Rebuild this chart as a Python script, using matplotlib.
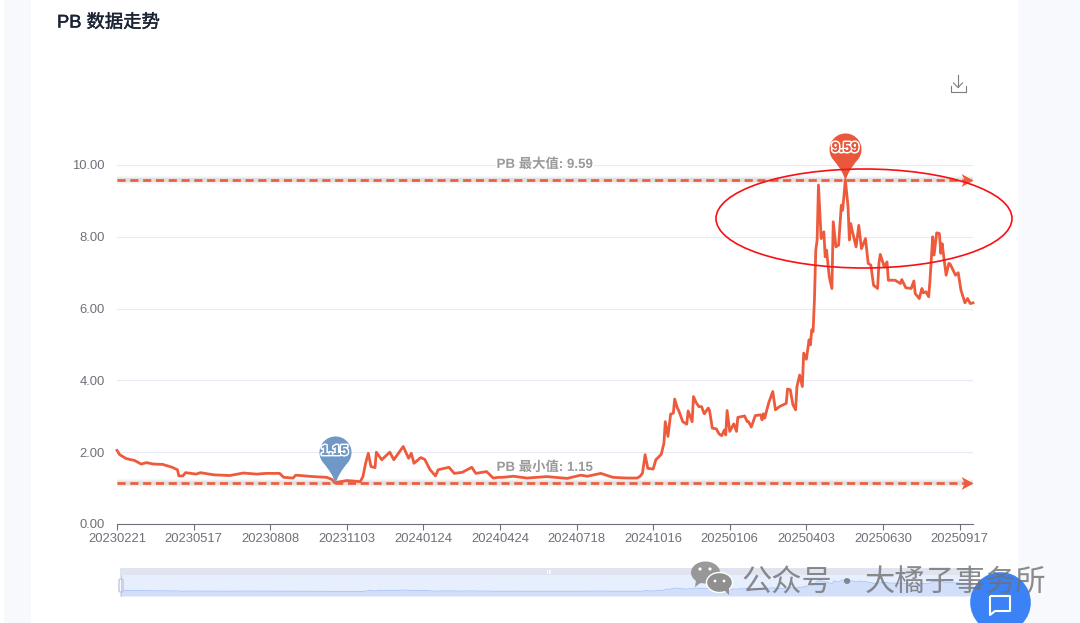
import numpy as np
import matplotlib as mpl
mpl.use('Agg')
from matplotlib import pyplot as plt
from matplotlib.path import Path
from matplotlib.patches import Ellipse, Rectangle, Circle, FancyBboxPatch, PathPatch
import matplotlib.patheffects as pe

plt.rcParams['font.family'] = ['Liberation Sans', 'Noto Sans CJK SC', 'DejaVu Sans']

# trading day index along the category axis, and PB
day_idx = [0, 2, 7, 13, 18, 22, 27, 34, 41, 45, 46, 49, 51, 59, 62, 72, 84, 94, 104, 111,
           121, 124, 131, 133, 146, 156, 160, 162, 171, 181, 183, 185, 187, 189, 192, 193,
           197, 203, 206, 213, 217, 219, 221, 226, 229, 233, 237, 239, 247, 251, 257, 264,
           267, 275, 280, 284, 287, 295, 305, 320, 335, 345, 350, 360, 369, 379, 387, 389,
           391, 393, 395, 399, 401, 405, 407, 408, 410, 412, 414, 415, 417, 418, 421, 424,
           425, 428, 429, 431, 433, 435, 437, 440, 441, 443, 446, 448, 450, 452, 453, 454,
           456, 459, 461, 462, 467, 469, 470, 472, 475, 479, 480, 481, 482, 485, 488, 490,
           493, 498, 499, 501, 503, 505, 506, 508, 510, 511, 513, 515, 516, 517, 518, 519,
           520, 521, 522, 524, 526, 527, 528, 530, 532, 533, 535, 537, 539, 540, 542, 544,
           545, 546, 547, 550, 552, 554, 557, 559, 561, 563, 566, 567, 568, 571, 573, 574,
           579, 583, 584, 587, 591, 593, 594, 597, 599, 600, 602, 604, 605, 607, 608, 610,
           612, 613, 614, 617, 619, 620, 624, 626, 628, 631, 633, 635, 637]
pb_vals = [2.05, 1.93, 1.82, 1.77, 1.67, 1.71, 1.67, 1.66, 1.58, 1.51, 1.34, 1.34, 1.43, 1.39, 1.43, 1.37, 1.35, 1.42, 1.39, 1.41,
           1.41, 1.30, 1.28, 1.36, 1.32, 1.30, 1.24, 1.15, 1.21, 1.18, 1.32, 1.69, 1.97, 1.60, 1.57, 2.00,
           1.79, 2.00, 1.79, 2.16, 1.83, 1.97, 1.69, 1.85, 1.80, 1.51, 1.34, 1.51, 1.58, 1.41, 1.44, 1.58,
           1.41, 1.46, 1.28, 1.30, 1.30, 1.33, 1.28, 1.32, 1.27, 1.36, 1.33, 1.41, 1.30, 1.28, 1.28, 1.32,
           1.41, 1.93, 1.55, 1.53, 1.79, 1.94, 2.25, 2.85, 2.44, 3.06, 3.09, 3.48, 3.23, 3.16, 2.85, 2.78,
           3.15, 2.85, 3.55, 3.38, 3.27, 3.27, 3.07, 3.23, 3.15, 2.67, 2.65, 2.51, 2.46, 2.62, 2.48, 3.16,
           2.58, 2.79, 2.58, 2.97, 3.01, 2.85, 2.85, 2.70, 3.02, 3.04, 2.90, 3.07, 2.95, 3.38, 3.69, 3.18,
           3.27, 3.36, 3.76, 3.74, 3.32, 3.18, 3.83, 4.15, 3.83, 4.76, 4.59, 5.13, 4.99, 5.41, 5.36, 6.24,
           7.63, 7.90, 9.44, 7.95, 8.14, 7.44, 7.63, 6.89, 6.56, 8.42, 7.72, 7.77, 8.88, 8.74, 9.59, 8.84,
           7.91, 8.37, 8.19, 7.72, 8.32, 7.67, 7.95, 7.26, 7.21, 6.65, 6.56, 7.26, 7.51, 7.16, 7.30, 6.79,
           6.79, 6.70, 6.81, 6.58, 6.56, 6.77, 6.42, 6.28, 6.56, 6.44, 6.47, 6.33, 6.79, 8.00, 7.49, 8.11,
           8.09, 7.54, 7.81, 6.93, 7.26, 7.24, 6.93, 7.00, 6.52, 6.16, 6.28, 6.14, 6.16]

tick_idx = [0, 57, 114, 171, 228, 285, 342, 399, 456, 513, 570, 627]
tick_labels = ['20230221', '20230517', '20230808', '20231103', '20240124', '20240424',
               '20240718', '20241016', '20250106', '20250403', '20250630', '20250917']
y_ticks = [0, 2, 4, 6, 8, 10]

RED = '#ee5a3c'
GREY_TXT = '#6e7079'
W, H = 1080, 623


def pin_marker():
    # round head with a concave taper down to the tip on the origin
    t = np.radians(np.linspace(-42, 222, 70))
    xs = 16 * np.cos(t)
    ys = 31 + 16 * np.sin(t)
    verts = np.column_stack([xs, ys])
    codes = [Path.MOVETO, Path.CURVE3, Path.CURVE3] + [Path.LINETO] * len(verts) + [Path.CURVE3, Path.CURVE3]
    all_verts = np.vstack([[0, 0], [3, 10], verts[0], verts, [-3, 10], [0, 0]])
    return Path(all_verts, codes)


def px_axes(zorder):
    a = fig.add_axes([0, 0, 1, 1], zorder=zorder)
    a.set_xlim(0, W)
    a.set_ylim(H, 0)
    a.axis('off')
    a.patch.set_alpha(0)
    return a


fig = plt.figure(figsize=(W / 100, H / 100), dpi=100, facecolor='white')

# page behind the card
bg = px_axes(0)
bg.add_patch(Rectangle((4, 0), 27, H, color='#f7f9fc', lw=0))
bg.add_patch(Rectangle((1018, 0), W - 1018, H, color='#f7f9fc', lw=0))
bg.add_patch(Rectangle((31, 0), 987, H, color='white', lw=0))
bg.text(57, 23, 'PB 数据走势', fontsize=13.2, color='#1a2233', va='center', ha='left',
        path_effects=[pe.withStroke(linewidth=0.3, foreground='#1a2233')])

# main chart
ax = fig.add_axes([117 / W, (H - 524) / H, 856 / W, 359 / H], zorder=1)
ax.patch.set_alpha(0)
ax.set_xlim(0, 637)
ax.set_ylim(0, 10)
for s in ['top', 'right', 'left']:
    ax.spines[s].set_visible(False)
ax.spines['bottom'].set_color(GREY_TXT)
ax.spines['bottom'].set_linewidth(0.8)
ax.set_yticks(y_ticks)
ax.set_yticklabels(['%.2f' % v for v in y_ticks])
ax.set_xticks(tick_idx)
ax.set_xticklabels(tick_labels)
ax.tick_params(axis='y', length=0, pad=9, labelsize=9.4, labelcolor=GREY_TXT)
ax.tick_params(axis='x', length=4, width=0.8, color=GREY_TXT, pad=2.5, labelsize=9.4, labelcolor=GREY_TXT)
ax.grid(axis='y', color='#e6ebf5', lw=0.8)
ax.set_axisbelow(True)

pb_max = max(pb_vals)
pb_min = min(pb_vals)
i_max = day_idx[pb_vals.index(pb_max)]
i_min = day_idx[pb_vals.index(pb_min)]

arrow = Path([(0, 0), (-12, 6.5), (-8.5, 0), (-12, -6.5), (0, 0)], closed=True)
for val, name in [(pb_max, 'PB 最大值'), (pb_min, 'PB 最小值')]:
    for lw_s, a_s in [(6, 0.03), (4, 0.04), (2.6, 0.05)]:
        ax.plot([0, 637], [val - 0.02, val - 0.02], color='black', alpha=a_s, lw=lw_s,
                solid_capstyle='butt', zorder=2)
    ax.plot([0, 631], [val, val], color=RED, lw=1.9, ls=(0, (3.1, 1.75)), zorder=3,
            dash_capstyle='butt')
    ax.plot([637], [val], marker=arrow, ms=17.3, color=RED, mew=0, clip_on=False, zorder=3)
    ax.annotate('%s: %.2f' % (name, val), (318.5, val), xytext=(0, 10.8), textcoords='offset points',
                ha='center', va='center', fontsize=9.6, fontweight='bold', color='#999999', zorder=6,
                path_effects=[pe.withStroke(linewidth=2.5, foreground='white')])

ax.plot(day_idx, pb_vals, color=RED, lw=2.0, zorder=4, solid_joinstyle='round', clip_on=False)

pin = pin_marker()
for i_pin, val, col in [(i_max, pb_max, '#e9583c'), (i_min, pb_min, '#6f98c6')]:
    ax.plot([i_pin], [val], marker=pin, ms=67.7, color=col, mew=0, clip_on=False, zorder=7)
    ax.annotate('%.2f' % val, (i_pin, val), xytext=(0, 23), textcoords='offset points',
                ha='center', va='center', fontsize=10, fontweight='bold', color=col, zorder=8,
                path_effects=[pe.withStroke(linewidth=2.4, foreground='white'), pe.Normal()])

# range slider under the chart
dz = px_axes(2)
dz.add_patch(Rectangle((120, 568), 853, 7, color='#dfe4f0', lw=0))
dz.add_patch(Rectangle((120, 575), 853, 21, color='#e7eefe', lw=0))
for xd in [547, 548.5, 550]:
    dz.plot([xd, xd], [570, 572.5], color='white', lw=0.6)

mini = fig.add_axes([120 / W, (H - 596) / H, 853 / W, 21 / H], zorder=2.5)
mini.patch.set_alpha(0)
mini.axis('off')
mini.set_xlim(0, 637)
mini.set_ylim(-1.9, 12.3)
mini.fill_between(day_idx, -1.9, pb_vals, color='#d2dffb', lw=0)
mini.plot(day_idx, pb_vals, color='#a9c4f5', lw=0.6)

# overlays that sit on top of everything
top = px_axes(3)
top.plot([121, 121], [575, 596], color='#c3cbe0', lw=0.8)
top.add_patch(FancyBboxPatch((119, 579), 4, 13, boxstyle='round,pad=0,rounding_size=1.5',
                             fc='white', ec='#b8c2da', lw=0.9))

top.add_patch(Ellipse((864, 218.5), 296, 99, fill=False, ec='#fa0f14', lw=1.2, zorder=9))

# download icon
top.plot([958, 958], [75, 87], color='#7d7d7d', lw=0.8)
top.plot([953.5, 958, 962.5], [83, 87.5, 83], color='#7d7d7d', lw=0.8)
top.plot([950.5, 950.5, 965.5, 965.5], [86, 91.5, 91.5, 86], color='#7d7d7d', lw=0.8)

# chat button
top.add_patch(Circle((1000.5, 602.5), 30.3, fc='#3b82f6', ec='none', zorder=10))
bubble = Path([(990, 596), (1010, 596), (1010, 611), (995, 611), (990, 615), (990, 596)])
top.add_patch(PathPatch(bubble, fc='none', ec='white', lw=1.5, joinstyle='round', zorder=11))

# watermark goes over the button
wm = '#8f8f8f'
top.add_patch(Ellipse((705.5, 572.5), 29, 22, fc=wm, ec='none', alpha=0.9))
top.add_patch(PathPatch(Path([(696, 580), (695, 587), (702, 582), (696, 580)], closed=True), fc=wm, ec='none', alpha=0.9))
top.add_patch(Ellipse((719.5, 582.5), 26, 20, fc=wm, ec='white', lw=1.0))
top.add_patch(PathPatch(Path([(724, 590), (729, 595), (729, 587), (724, 590)], closed=True), fc=wm, ec='none'))
for ex, ey, er in [(700, 569, 1.6), (710, 569, 1.6), (715, 581, 1.4), (724, 581, 1.4)]:
    top.add_patch(Circle((ex, ey), er, fc='white', ec='none'))
top.text(741, 583, '公众号', fontsize=21.8, color='#707070', alpha=0.8, va='center', ha='left', zorder=12,
         family=['Noto Sans CJK SC', 'DejaVu Sans'])
top.text(846, 583, '·', fontsize=21.8, color='#707070', alpha=0.8, va='center', ha='center', zorder=12,
         family=['Noto Sans CJK SC', 'DejaVu Sans'])
top.text(865, 583, '大橘子事务所', fontsize=21.8, color='#707070', alpha=0.8, va='center', ha='left', zorder=12,
         family=['Noto Sans CJK SC', 'DejaVu Sans'])

fig.savefig('out.png', dpi=100)
